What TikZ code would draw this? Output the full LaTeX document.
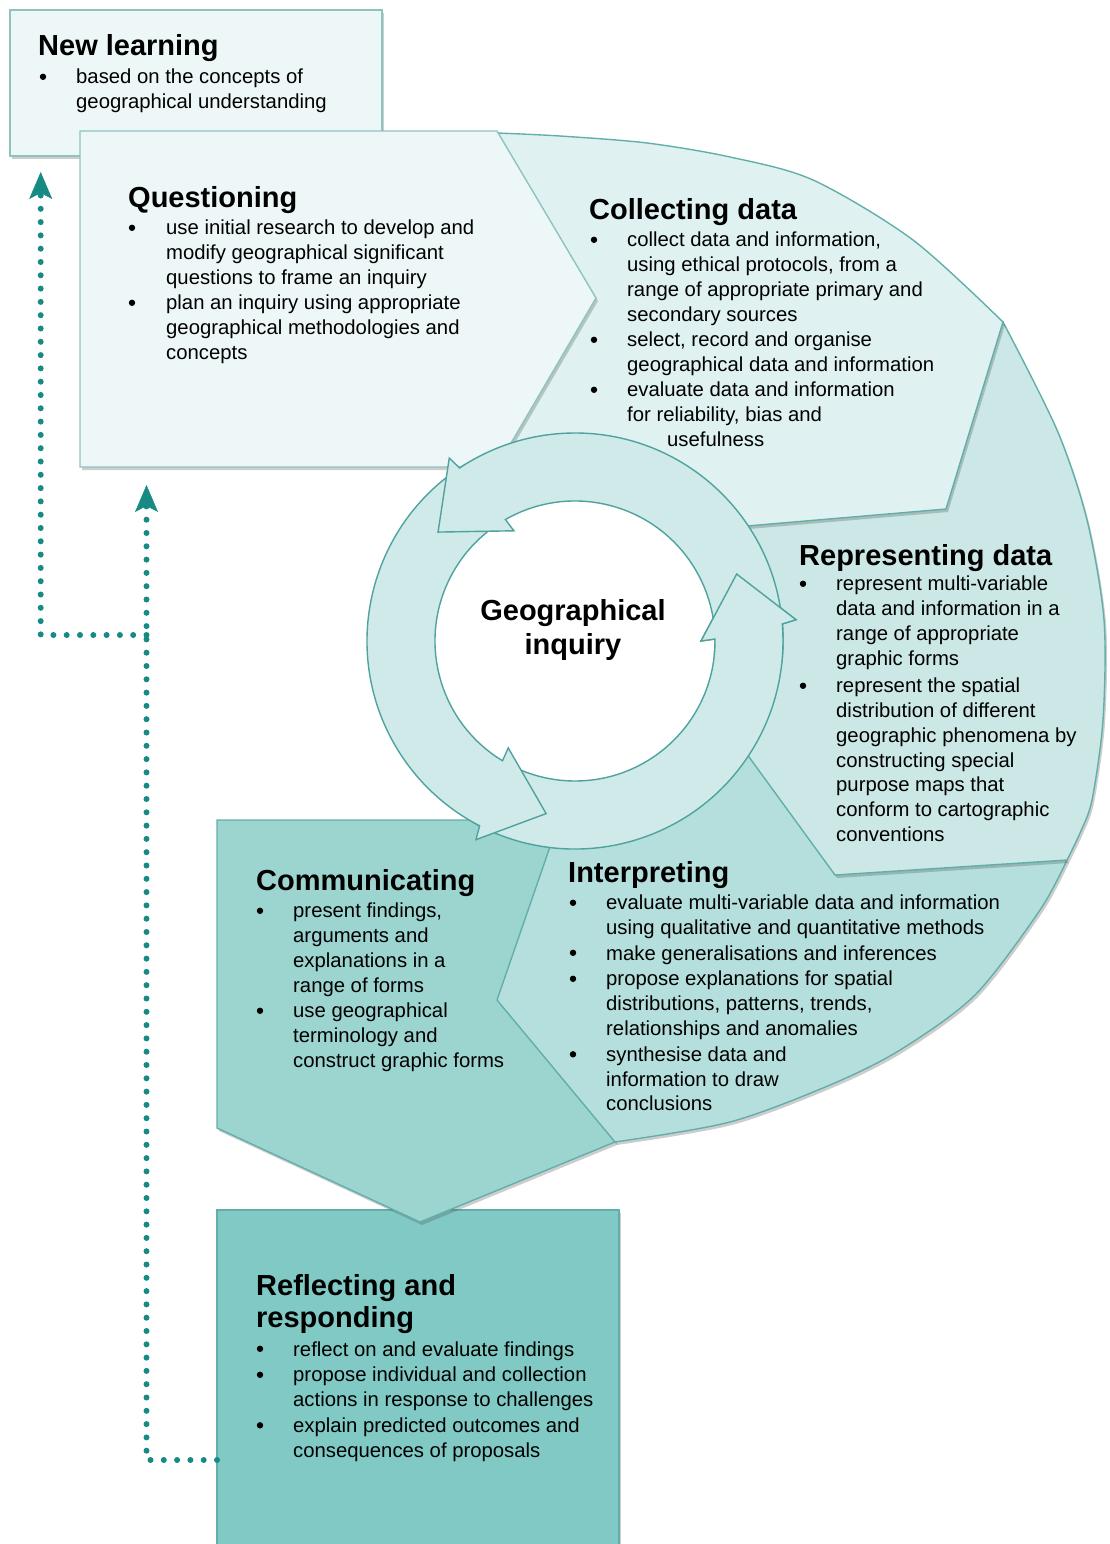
\documentclass[tikz,border=0pt]{standalone}
\usepackage{fontspec}
\setmainfont{Liberation Sans}
\usetikzlibrary{arrows.meta,shadows,calc}
\definecolor{nlfill}{HTML}{EDF7F7}
\definecolor{colfill}{HTML}{E0F1F1}
\definecolor{repfill}{HTML}{CBE8E6}
\definecolor{intfill}{HTML}{B4DFDC}
\definecolor{comfill}{HTML}{9CD4D0}
\definecolor{reffill}{HTML}{80C9C4}
\definecolor{ringfill}{HTML}{CFEAE8}
\definecolor{edgec}{HTML}{62AFAA}
\definecolor{ringedge}{HTML}{4FA39E}
\definecolor{lightedge}{HTML}{8DC4C0}
\definecolor{dotc}{HTML}{178A84}

\newcommand\bitem[5]{%
  \node[bul] (#1b) at (#2,#4-7.2) {};
  \node[body] (#1) at (#3,#4-15) {#5};
}

\begin{document}
\begin{tikzpicture}[x=1pt,y=-1pt,
  region/.style={draw=edgec, line width=1.4pt, line join=miter},
  shad/.style={drop shadow={shadow xshift=2pt, shadow yshift=-3pt, opacity=0.28, fill=black!70}},
  title/.style={font=\fontsize{29}{34}\selectfont\bfseries, inner sep=0pt},
  body/.style={font=\fontsize{20.3}{24.7}\selectfont, align=left, inner sep=0pt, anchor=north west, execute at begin node={\rule{0pt}{15pt}}},
  bul/.style={circle, fill=black, inner sep=0pt, minimum size=6.4pt},
  ringarrow/.style={fill=ringfill, draw=ringedge, line width=1.4pt, line join=miter},
  dotline/.style={draw=dotc, line width=6pt, line cap=round, dash pattern=on 0pt off 13.3pt},
  tipup/.style={-{Stealth[length=27pt,width=23pt,inset=6pt,line width=0.5pt]}}
]
\useasboundingbox (0,0) rectangle (1110,1544);
\clip (0,0) rectangle (1110,1544);

% ---------- background shapes ----------
% New learning
\path[region, shad, fill=nlfill, draw=lightedge] (10,10) rectangle (382,156);
% Reflecting and responding
\path[region, shad, fill=reffill] (217,1210) rectangle (619,1570);
% Communicating
\path[region, shad, fill=comfill] (217,820) -- (600,820) -- (615,1142) -- (420,1222) -- (217,1128) -- cycle;
% Interpreting
\path[region, shad, fill=intfill] (562,812) -- (497,1000) -- plot[smooth] coordinates {(615,1142) (730,1122) (830,1085) (900,1050) (975,995) (1040,910) (1067,860)} -- (900,700) -- (575,641) -- cycle;
% Representing data
\path[region, shad, fill=repfill] (725,724) -- (835,875) -- plot[smooth] coordinates {(1067,860) (1080,833) (1092,800) (1103,720) (1104,620) (1087,520) (1057,430) (1003,322)} -- (575,641) -- cycle;
% Collecting data
\path[region, shad, fill=colfill] (700,530) -- (946,509) -- plot[smooth] coordinates {(1003,322) (913,240) (813,180) (730,157) (647,143) (560,136) (497,133)} -- (480,133) -- (480,467) -- (575,641) -- cycle;
% Questioning
\path[region, shad, fill=nlfill, draw=lightedge] (80,131) -- (497,131) -- (596,298) -- (497,467) -- (80,467) -- cycle;

% ---------- central ring ----------
\begin{scope}[shift={(575,641)}]
  \fill[white] (0,0) circle[radius=140];
  \foreach \a/\t in {0/119, -238/-122, -119/-3} {
    \path[ringarrow] (\t:208) arc[start angle=\t, end angle=\a-4.7, radius=208]
      -- (\a-5.5:222) -- (\a-22.5:175) -- (\a:126) -- (\a-0.8:140)
      arc[start angle=\a-0.8, end angle=\t, radius=140] -- cycle;
  }
  \begin{scope}
    \clip (0,0) -- (6:300) arc[start angle=6, end angle=-40, radius=300] -- cycle;
    \path[ringarrow] (119:208) arc[start angle=119, end angle=-4.7, radius=208]
      -- (-5.5:222) -- (-22.5:175) -- (0:126) -- (-0.8:140)
      arc[start angle=-0.8, end angle=119, radius=140] -- cycle;
  \end{scope}
\end{scope}

% ---------- texts ----------
\node[title, anchor=base west] (nlT) at (38,56) {New learning};
\bitem{nl1}{43}{76}{84}{based on the concepts of\\geographical understanding}

\node[title, anchor=base west] (qT) at (128,207) {Questioning};
\bitem{q1}{132}{166}{235}{use initial research to develop and\\modify geographical significant\\questions to frame an inquiry}
\bitem{q2}{132}{166}{310}{plan an inquiry using appropriate\\geographical methodologies and\\concepts}

\node[title, anchor=base west] (cT) at (589,219) {Collecting data};
\bitem{c1}{594}{627}{247}{collect data and information,\\using ethical protocols, from a\\range of appropriate primary and\\secondary sources}
\bitem{c2}{594}{627}{347}{select, record and organise\\geographical data and information}
\bitem{c3}{594}{627}{397}{evaluate data and information\\for reliability, bias and\\\hspace*{40pt}usefulness}

\node[title, anchor=base west] (rT) at (799,565) {Representing data};
\bitem{r1}{803}{836}{591}{represent multi-variable\\data and information in a\\range of appropriate\\graphic forms}
\bitem{r2}{803}{836}{693}{represent the spatial\\distribution of different\\geographic phenomena by\\constructing special\\purpose maps that\\conform to cartographic\\conventions}

\node[title, align=center, anchor=north, font=\fontsize{29}{34}\selectfont\bfseries] (gi) at (573,598) {\rule{0pt}{22pt}Geographical\\inquiry};

\node[title, anchor=base west] (iT) at (568,882) {Interpreting};
\bitem{i1}{573}{606}{910}{evaluate multi-variable data and information\\using qualitative and quantitative methods}
\bitem{i2}{573}{606}{960}{make generalisations and inferences}
\bitem{i3}{573}{606}{986}{propose explanations for spatial\\distributions, patterns, trends,\\relationships and anomalies}
\bitem{i4}{573}{606}{1061.5}{synthesise data and\\information to draw\\conclusions}

\node[title, anchor=base west] (mT) at (256,890) {Communicating};
\bitem{m1}{260}{293}{918}{present findings,\\arguments and\\explanations in a\\range of forms}
\bitem{m2}{260}{293}{1018}{use geographical\\terminology and\\construct graphic forms}

\node[title, align=left, anchor=north west, font=\fontsize{29}{32}\selectfont\bfseries] (fT) at (256,1273) {\rule{0pt}{22pt}Reflecting and\\responding};
\bitem{f1}{260}{293}{1356}{reflect on and evaluate findings}
\bitem{f2}{260}{293}{1382}{propose individual and collection\\actions in response to challenges}
\bitem{f3}{260}{293}{1432.5}{explain predicted outcomes and\\consequences of proposals}

% ---------- dotted feedback connectors ----------
\coordinate (reflW) at (217,1460);
\coordinate (quesS) at (146.5,485);
\coordinate (junc) at (146.5,635);
\coordinate (newlS) at (40.7,172);
\draw[dotline, tipup] (reflW) -| (quesS);
\draw[dotline, tipup] (junc) -| (newlS);
\end{tikzpicture}
\end{document}
